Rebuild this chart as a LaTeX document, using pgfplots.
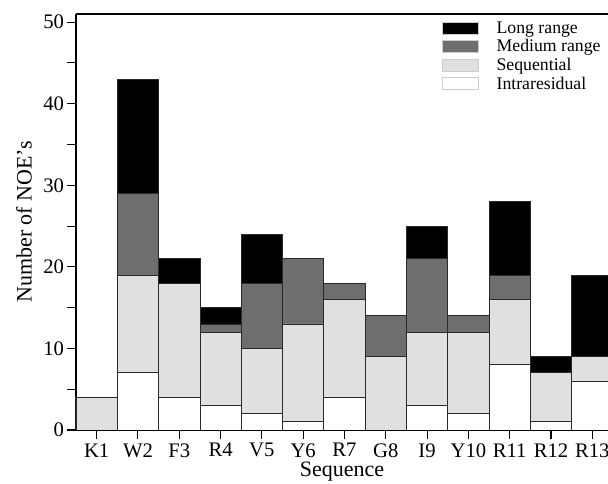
\documentclass[border=0pt]{standalone}
\usepackage{pgfplots}
\pgfplotsset{compat=1.18}
\usepackage{fontspec}
\setmainfont{Liberation Serif}
\definecolor{medgray}{HTML}{6E6E6E}
\definecolor{seqgray}{HTML}{E0E0E0}
\definecolor{edgec}{HTML}{2A2A2A}
\begin{document}
\begin{tikzpicture}
\begin{axis}[
  name=ax,
  width=399pt, height=312pt, scale only axis,
  ybar stacked, bar width=1,
  xmin=-0.5, xmax=12.38, ymin=0, ymax=51,
  axis x line*=bottom, axis y line*=left,
  axis line style={black, line width=0.8pt},
  xtick=data,
  xticklabels={K1,W2,F3,R4,V5,Y6,R7,G8,I9,Y10,R11,R12,R13},
  ytick={0,10,20,30,40,50}, minor ytick={5,15,25,35,45},
  tick align=outside,
  major tick length=6.5pt, minor tick length=6.5pt,
  tick style={black, line width=0.8pt},
  /pgf/number format/assume math mode=true,
  ticklabel style={font=\fontsize{15.5}{18}\selectfont},
  yticklabel style={xshift=1pt},
  xlabel={Sequence}, ylabel={Number of NOE's},
  every axis x label/.style={at={(rel axis cs:0.5,0)}, yshift=-31.5pt, anchor=center, font=\fontsize{16.5}{18}\selectfont},
  every axis y label/.style={at={(rel axis cs:0,0.5)}, xshift=-39pt, rotate=90, anchor=center, font=\fontsize{16.5}{18}\selectfont},
  legend style={draw=none, fill=none, at={(0.999,0.995)}, anchor=north east,
    font=\fontsize{13.3}{13}\selectfont, row sep=-0.8pt,
    legend cell align=left},
  reverse legend,
  legend image code/.code={\draw[#1, draw=gray!40] (0cm,-0.15cm) rectangle (0.95cm,0.16cm); \path (1.34cm,0);},
  every axis plot/.append style={draw=edgec, line width=0.6pt},
]
\addplot[fill=white] coordinates {(0,0) (1,7) (2,4) (3,3) (4,2) (5,1) (6,4) (7,0) (8,3) (9,2) (10,8) (11,1) (12,6)};
\addplot[fill=seqgray] coordinates {(0,4) (1,12) (2,14) (3,9) (4,8) (5,12) (6,12) (7,9) (8,9) (9,10) (10,8) (11,6) (12,3)};
\addplot[fill=medgray] coordinates {(0,0) (1,10) (2,0) (3,1) (4,8) (5,8) (6,2) (7,5) (8,9) (9,2) (10,3) (11,0) (12,0)};
\addplot[fill=black] coordinates {(0,0) (1,14) (2,3) (3,2) (4,6) (5,0) (6,0) (7,0) (8,4) (9,0) (10,9) (11,2) (12,10)};
\legend{Intraresidual,Sequential,Medium range,Long range}
\draw[black, line width=0.8pt] (rel axis cs:0,1) -- (rel axis cs:1,1);
\end{axis}
\pgfresetboundingbox
\path[use as bounding box] ([xshift=-57pt,yshift=-40pt]ax.south west) rectangle ([yshift=10.5pt]ax.north east);
\end{tikzpicture}
\end{document}
